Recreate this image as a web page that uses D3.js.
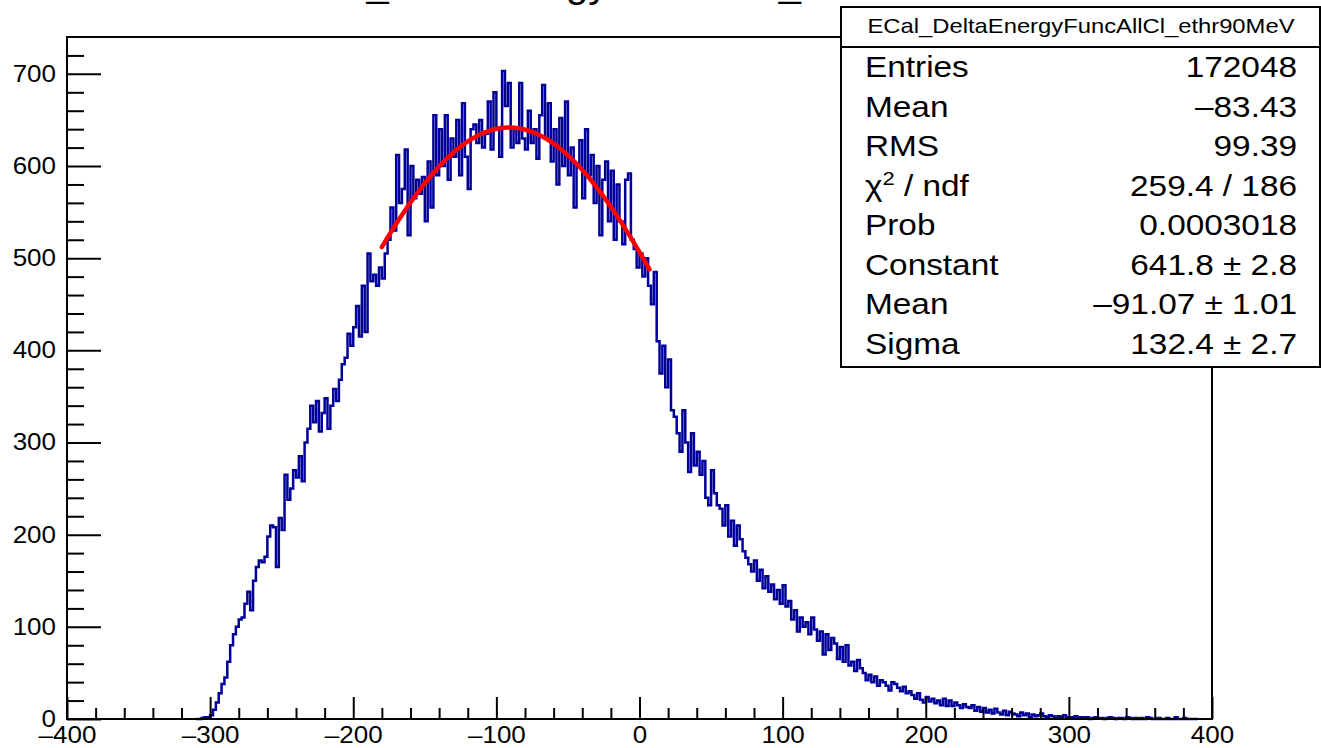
<!DOCTYPE html>
<html>
<head>
<meta charset="utf-8">
<script src="https://cdn.jsdelivr.net/npm/d3@7"></script>
<style>
  body { margin: 0; background: #fff; }
  text { font-family: "Liberation Sans", Arial, Helvetica, sans-serif; fill: #000; }
</style>
</head>
<body>
<svg id="chart" width="1321" height="748"></svg>
<script>
// histogram contents, 2-unit bins starting at binStart
const binStart = -310
const binWidth = 2
const counts = [
  0, 0, 1, 2, 2, 4, 10, 18, 28, 38,                 // -310
  45, 62, 80, 92, 100, 108, 110, 125, 138, 118,     // -290
  150, 165, 172, 170, 176, 198, 210, 208, 165, 218, // -270
  205, 265, 238, 250, 270, 262, 285, 258, 300, 315, // -250
  340, 322, 345, 312, 332, 348, 315, 340, 358, 345, // -230
  368, 385, 392, 418, 405, 425, 448, 415, 470, 420, // -210
  505, 475, 482, 470, 490, 478, 505, 520, 555, 530, // -190
  612, 560, 575, 618, 525, 600, 565, 585, 570, 588, // -170
  540, 605, 555, 655, 590, 640, 600, 655, 585, 630, // -150
  610, 650, 590, 668, 610, 575, 640, 645, 625, 650, // -130
  620, 635, 670, 618, 680, 640, 610, 703, 665, 690, // -110
  620, 640, 625, 690, 630, 618, 660, 625, 640, 608, // -90
  655, 688, 630, 668, 605, 640, 580, 652, 600, 670, // -70
  590, 620, 555, 600, 628, 565, 640, 590, 612, 560, // -50
  600, 525, 585, 605, 540, 595, 520, 580, 540, 515, // -30
  585, 592, 520, 510, 490, 505, 480, 500, 470, 450, // -10
  485, 410, 375, 405, 360, 390, 335, 328, 310, 290, // 10
  335, 300, 268, 310, 275, 290, 265, 280, 240, 232, // 30
  270, 245, 232, 228, 210, 232, 198, 215, 188, 210, // 50
  195, 182, 175, 168, 160, 172, 150, 162, 142, 155, // 70
  138, 146, 130, 140, 125, 145, 122, 128, 108, 118, // 90
  95, 110, 100, 105, 92, 110, 97, 85, 95, 70,       // 110
  92, 75, 88, 82, 65, 78, 62, 80, 58, 62,           // 130
  52, 64, 55, 50, 42, 48, 40, 46, 36, 42,           // 150
  40, 36, 31, 40, 38, 34, 30, 35, 28, 30,           // 170
  26, 22, 28, 21, 18, 24, 19, 22, 17, 20,           // 190
  15, 22, 14, 20, 14, 18, 15, 12, 16, 13,           // 210
  12, 15, 9, 13, 8, 12, 7, 10, 6, 11,               // 230
  7, 5, 9, 4, 8, 6, 5, 3, 7, 4,                     // 250
  6, 2, 5, 3, 4, 6, 3, 2, 4, 3,                     // 270
  1, 3, 2, 4, 2, 1, 2, 3, 1, 2,                     // 290
  1, 2, 0, 1, 2, 1, 1, 0, 1, 2,                     // 310
  1, 0, 1, 1, 0, 2, 1, 0, 1, 0,                     // 330
  1, 0, 2, 1, 0, 0, 1, 0, 0, 1,                     // 350
  0, 0, 2, 0, 0, 1, 0, 0, 0, 0                      // 370
]

// gaussian fit: constant, mean, sigma (from the stats box) and fit range
const fitParams = [641.8, -91.07, 132.4]
const fitRange = [-180, 7]

const xTicks = [-400, -300, -200, -100, 0, 100, 200, 300, 400]
const yTicks = [0, 100, 200, 300, 400, 500, 600, 700]

const histTitle = 'ECal_DeltaEnergyFuncAllCl_ethr90MeV'
const statLabels = ['Entries', 'Mean', 'RMS', 'CHI', 'Prob', 'Constant', 'Mean', 'Sigma']
const statValues = ['172048', '\u201383.43', '99.39', '259.4 / 186', '0.0003018',
                    '641.8 \u00b1 2.8', '\u201391.07 \u00b1 1.01', '132.4 \u00b1 2.7']

const svg = d3.select('#chart')
svg.append('rect').attr('width', 1321).attr('height', 748).attr('fill', '#fff')

const frame = {left: 67, right: 1212, top: 37, bottom: 719}
const x = d3.scaleLinear().domain([-400, 400]).range([frame.left, frame.right])
const y = d3.scaleLinear().domain([0, 740]).range([frame.bottom, frame.top])

// ROOT fonts in the picture come out a bit wider than Liberation Sans
function widen(sel, k) {
  sel.each(function() {
    const w = this.getComputedTextLength()
    d3.select(this).attr('textLength', w * k).attr('lengthAdjust', 'spacingAndGlyphs')
  })
}

// title, mostly above the top of the canvas
svg.append('text')
  .attr('x', 638).attr('y', -3)
  .attr('text-anchor', 'middle')
  .style('font-size', '36px')
  .text(histTitle)
  .attr('textLength', 716).attr('lengthAdjust', 'spacingAndGlyphs')

// histogram outline as steps (empty bins outside the data sit on the axis)
const pts = []
counts.forEach((c, i) => pts.push([binStart + i * binWidth, c]))
pts.push([binStart + counts.length * binWidth, 0])

const histLine = d3.line()
  .x(d => x(d[0]))
  .y(d => y(d[1]))
  .curve(d3.curveStepAfter)

svg.append('path')
  .datum(pts)
  .attr('d', histLine)
  .attr('fill', 'none')
  .attr('stroke', '#000099')
  .attr('stroke-width', 2.5)

// fit curve
const gaus = v => fitParams[0] * Math.exp(-0.5 * Math.pow((v - fitParams[1]) / fitParams[2], 2))
const fitPts = d3.range(fitRange[0], fitRange[1] + 0.01, 1).map(v => [v, gaus(v)])

svg.append('path')
  .datum(fitPts)
  .attr('d', d3.line().x(d => x(d[0])).y(d => y(d[1])))
  .attr('fill', 'none')
  .attr('stroke', '#ff0000')
  .attr('stroke-width', 4.5)
  .attr('stroke-linecap', 'round')

// axes, ticks pointing into the frame
const fmt = v => String(v).replace('-', '\u2013')
const xMinor = d3.range(-400, 401, 20).filter(v => v % 100 !== 0)
const yMinor = d3.range(0, 740, 20).filter(v => v % 100 !== 0)

svg.append('g')
  .attr('transform', `translate(0,${frame.bottom})`)
  .call(d3.axisBottom(x).tickValues(xTicks).tickSize(-22).tickPadding(8).tickFormat(fmt))
svg.append('g')
  .attr('transform', `translate(0,${frame.bottom})`)
  .call(d3.axisBottom(x).tickValues(xMinor).tickSize(-11).tickFormat(''))

svg.append('g')
  .attr('transform', `translate(${frame.left},0)`)
  .call(d3.axisLeft(y).tickValues(yTicks).tickSize(-34).tickPadding(11).tickFormat(fmt))
svg.append('g')
  .attr('transform', `translate(${frame.left},0)`)
  .call(d3.axisLeft(y).tickValues(yMinor).tickSize(-17).tickFormat(''))

svg.selectAll('.domain').remove()
svg.selectAll('.tick line').attr('stroke', '#000').attr('stroke-width', 2)
svg.selectAll('.tick text')
  .style('font-family', '"Liberation Sans", Arial, sans-serif')
  .style('font-size', '23px')
  .attr('fill', '#000')
widen(svg.selectAll('.tick text'), 1.13)

svg.append('rect')
  .attr('x', frame.left).attr('y', frame.top)
  .attr('width', frame.right - frame.left).attr('height', frame.bottom - frame.top)
  .attr('fill', 'none')
  .attr('stroke', '#000')
  .attr('stroke-width', 2)

// stats box
const box = svg.append('g')
box.append('rect')
  .attr('x', 841).attr('y', 7).attr('width', 479).attr('height', 360)
  .attr('fill', '#fff').attr('stroke', '#000').attr('stroke-width', 2)
box.append('line')
  .attr('x1', 841).attr('x2', 1320).attr('y1', 47).attr('y2', 47)
  .attr('stroke', '#000').attr('stroke-width', 2)
box.append('text')
  .attr('x', 1081).attr('y', 33)
  .attr('text-anchor', 'middle')
  .style('font-size', '21px')
  .text(histTitle)
  .attr('textLength', 427).attr('lengthAdjust', 'spacingAndGlyphs')

statLabels.forEach((lab, i) => {
  const yy = 77 + i * 39.5
  const t = box.append('text').attr('x', 865).attr('y', yy).style('font-size', '29px')
  if (lab === 'CHI') {
    t.append('tspan').text('\u03c7')
    t.append('tspan').attr('dy', -11).style('font-size', '19px').text('2')
    t.append('tspan').attr('dy', 11).text(' / ndf')
  } else {
    t.text(lab)
  }
  widen(t, 1.15)

  const v = box.append('text')
    .attr('x', 1297).attr('y', yy)
    .attr('text-anchor', 'end')
    .style('font-size', '29px')
    .text(statValues[i])
  widen(v, 1.15)
})
</script>
</body>
</html>
